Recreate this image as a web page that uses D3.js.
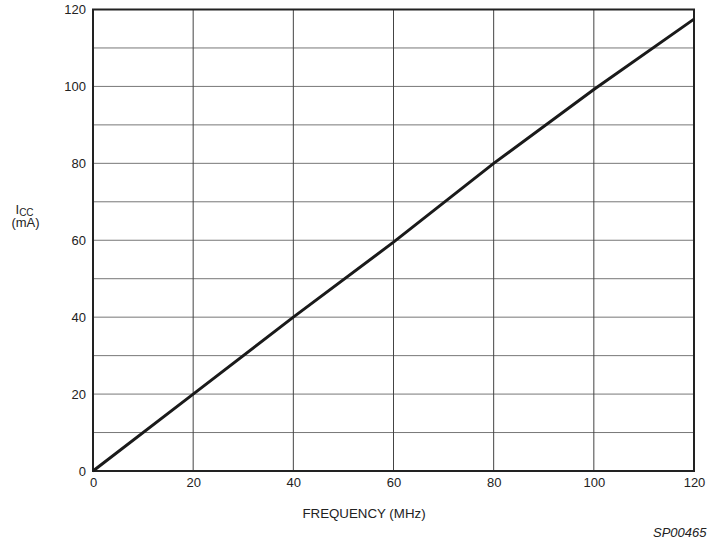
<!DOCTYPE html>
<html>
<head>
<meta charset="utf-8">
<script src="https://cdn.jsdelivr.net/npm/d3@7"></script>
<style>
  body { margin: 0; background: #fff; }
  text { font-family: "Liberation Sans", Arial, sans-serif; fill: #222; }
</style>
</head>
<body>
<svg id="chart"></svg>
<script>
const width = 708;
const height = 539;

// data
const freq = [0, 20, 40, 60, 80, 100, 120];
const icc = [0, 20, 40, 59.5, 80, 99.2, 117.5];
const xTicks = [0, 20, 40, 60, 80, 100, 120];
const yTicks = [0, 20, 40, 60, 80, 100, 120];
const yGrid = [10, 20, 30, 40, 50, 60, 70, 80, 90, 100, 110];

const plot = {left: 93, right: 694, top: 9.5, bottom: 471};

let svg = d3.select("#chart")
  .attr("width", width)
  .attr("height", height);

let scX = d3.scaleLinear().domain([0, 120]).range([plot.left, plot.right]);
let scY = d3.scaleLinear().domain([0, 120]).range([plot.bottom, plot.top]);

// grid
svg.append("g")
  .selectAll("line")
  .data(yGrid)
  .enter().append("line")
  .attr("x1", plot.left).attr("x2", plot.right)
  .attr("y1", d => scY(d)).attr("y2", d => scY(d))
  .attr("stroke", "#777").attr("stroke-width", 1);

svg.append("g")
  .selectAll("line")
  .data(xTicks.slice(1, -1))
  .enter().append("line")
  .attr("x1", d => scX(d)).attr("x2", d => scX(d))
  .attr("y1", plot.top).attr("y2", plot.bottom)
  .attr("stroke", "#444").attr("stroke-width", 1);

// frame
svg.append("rect")
  .attr("x", plot.left).attr("y", plot.top)
  .attr("width", plot.right - plot.left)
  .attr("height", plot.bottom - plot.top)
  .attr("fill", "none")
  .attr("stroke", "#222").attr("stroke-width", 2);

// axes (labels only)
let axisX = d3.axisBottom(scX).tickValues(xTicks).tickSize(0).tickPadding(7);
let axisY = d3.axisLeft(scY).tickValues(yTicks).tickSize(0).tickPadding(7);

let gx = svg.append("g")
  .attr("transform", `translate(0, ${plot.bottom})`)
  .call(axisX);
let gy = svg.append("g")
  .attr("transform", `translate(${plot.left}, 0)`)
  .call(axisY);
[gx, gy].forEach(g => {
  g.select(".domain").remove();
  g.selectAll("text").style("font-size", "13px").attr("fill", "#222");
});

// the curve
let line = d3.line()
  .x((d, i) => scX(freq[i]))
  .y(d => scY(d));

svg.append("path")
  .datum(icc)
  .attr("d", line)
  .attr("fill", "none")
  .attr("stroke", "#1a1a1a")
  .attr("stroke-width", 3);

// titles
svg.append("text")
  .attr("x", 364).attr("y", 518)
  .attr("text-anchor", "middle")
  .style("font-size", "13.3px")
  .text("FREQUENCY (MHz)");

let yt = svg.append("text")
  .attr("x", 15.5).attr("y", 213.5)
  .style("font-size", "13px");
yt.append("tspan").text("I");
yt.append("tspan").attr("dy", 2).style("font-size", "10px").text("CC");

svg.append("text")
  .attr("x", 25.5).attr("y", 227)
  .attr("text-anchor", "middle")
  .style("font-size", "13px")
  .text("(mA)");

svg.append("text")
  .attr("x", 653).attr("y", 537)
  .style("font-size", "13px")
  .style("font-style", "italic")
  .text("SP00465");
</script>
</body>
</html>
